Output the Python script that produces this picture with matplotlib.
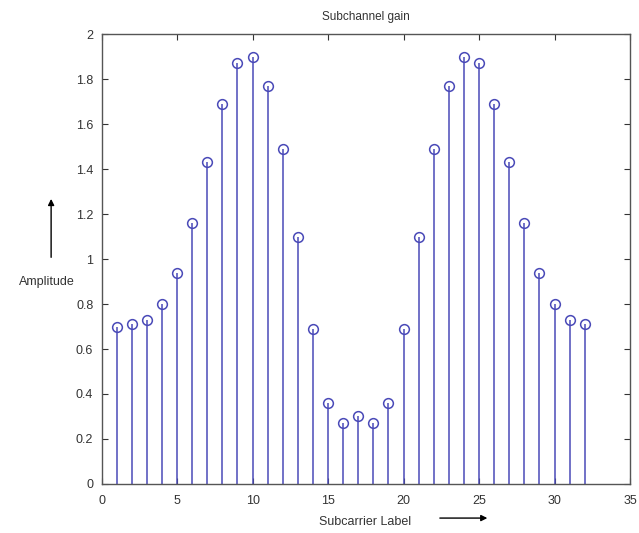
import matplotlib
matplotlib.use('Agg')
import matplotlib.pyplot as plt

plt.rcParams['font.family'] = ['Liberation Sans', 'DejaVu Sans']

subportadoras = list(range(1, 33))
ganho = [0.70, 0.71, 0.73, 0.80, 0.94, 1.16, 1.43, 1.69, 1.87, 1.90,
         1.77, 1.49, 1.10, 0.69, 0.36, 0.27, 0.30, 0.27, 0.36, 0.69,
         1.10, 1.49, 1.77, 1.90, 1.87, 1.69, 1.43, 1.16, 0.94, 0.80,
         0.73, 0.71]
xticks = [0, 5, 10, 15, 20, 25, 30, 35]
yticks = [0, 0.2, 0.4, 0.6, 0.8, 1, 1.2, 1.4, 1.6, 1.8, 2]

fig = plt.figure(figsize=(6.39, 5.33), dpi=100)
ax = fig.add_axes([0.159, 0.092, 0.827, 0.844])

cor = '#4a4ab8'
ml, sl, bl = ax.stem(subportadoras, ganho, basefmt=' ')
plt.setp(sl, color=cor, linewidth=1.1)
plt.setp(ml, color=cor, markerfacecolor='none', markersize=7, markeredgewidth=1.1)

ax.set_xlim(0, 35)
ax.set_ylim(0, 2)
ax.set_xticks(xticks)
ax.set_yticks(yticks)
ax.set_yticklabels([f'{v:g}' for v in yticks])
ax.tick_params(direction='in', top=True, right=True, labelsize=9, colors='#333333', length=4)
ax.tick_params(axis='x', pad=8)
ax.tick_params(axis='y', pad=6)
for s in ax.spines.values():
    s.set_color('#555555')
    s.set_linewidth(1.0)

ax.set_title('Subchannel gain', fontsize=8.5, color='#333333', pad=10)

# rótulos com setas, como no original
fig.text(0.073, 0.471, 'Amplitude', fontsize=9, color='#333333', ha='center', va='center')
fig.add_artist(matplotlib.patches.FancyArrowPatch((0.080, 0.512), (0.080, 0.632), transform=fig.transFigure,
                                                  arrowstyle='-|>', mutation_scale=9, color='black', lw=1))
fig.text(0.571, 0.021, 'Subcarrier Label', fontsize=9, color='#333333', ha='center', va='center')
fig.add_artist(matplotlib.patches.FancyArrowPatch((0.684, 0.028), (0.767, 0.028), transform=fig.transFigure,
                                                  arrowstyle='-|>', mutation_scale=9, color='black', lw=1))

fig.savefig('out.png', dpi=100)
